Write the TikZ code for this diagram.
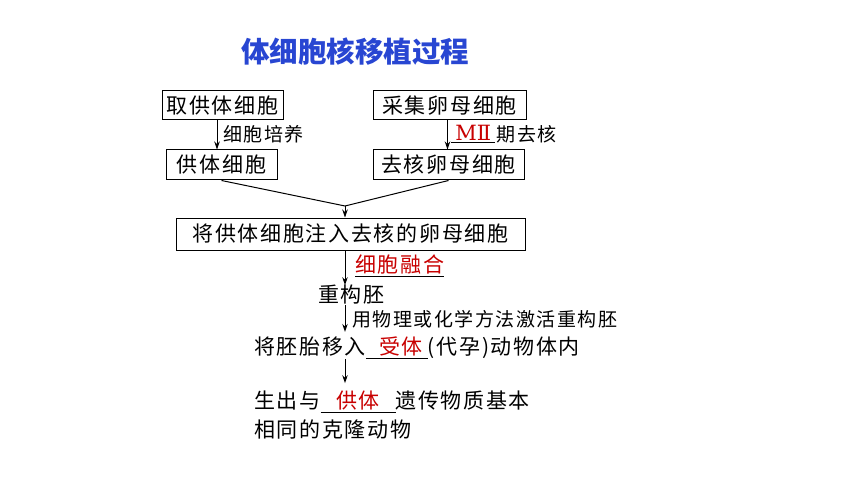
\documentclass[tikz,border=0pt]{standalone}
\usepackage{fontspec}
\setmainfont{Noto Sans CJK SC}
\newfontfamily\bodyfont[LetterSpace=8]{Noto Sans CJK SC}
\newfontfamily\romanfont{DejaVu Serif}
\usetikzlibrary{arrows.meta,positioning}
\definecolor{titleblue}{RGB}{40,70,210}
\definecolor{fillred}{RGB}{200,0,0}
\newcommand\blankfill[2]{\underline{\makebox[#1][c]{\color{fillred}#2}}}
\tikzset{
    stepbox/.style={draw, line width=1pt, inner sep=0pt, minimum height=29pt,
        font=\bodyfont\fontsize{21}{25}\selectfont},
    steptext/.style={anchor=west, inner sep=0pt, font=\bodyfont\fontsize{21}{25}\selectfont},
    arrowtext/.style={anchor=west, inner sep=0pt, font=\bodyfont\fontsize{19}{23}\selectfont},
    flow/.style={-{Stealth[length=8pt,width=5.5pt]}, line width=1pt}
}
\begin{document}
\begin{tikzpicture}[x=1pt,y=-1pt]
    \useasboundingbox (0,0) rectangle (860,484);
    %% 标题
    \node[font=\fontsize{28.5}{33}\selectfont\bfseries, text=titleblue] (title) at (355,52) {体细胞核移植过程};
    %% 上面两路
    \node[stepbox, minimum width=121pt] (take) at (222.5,105.5) {取供体细胞};
    \node[stepbox, minimum width=153pt] (collect) at (449.5,105.5) {采集卵母细胞};
    \node[stepbox, minimum width=111pt, minimum height=30pt] (donor) at (221.5,165) {供体细胞};
    \node[stepbox, minimum width=151pt, minimum height=30pt] (enuc) at (448.5,165) {去核卵母细胞};
    \node[stepbox, minimum width=349pt, minimum height=32pt] (inject) at (350.5,234) {将供体细胞注入去核的卵母细胞};
    
    \coordinate (lx) at (217,0);
    \coordinate (rx) at (447.5,0);
    \coordinate (mx) at (345,0);
    \coordinate (merge) at (345,206);
    
    \draw[flow] (take.south -| lx) -- (donor.north -| lx);
    \node[arrowtext] (culture) at (223,134) {细胞培养};
    \draw[flow] (collect.south -| rx) -- (enuc.north -| rx);
    \node[arrowtext] (mii) at (451,134) {\blankfill{44pt}{\romanfont\fontsize{21}{25}\selectfont MⅡ}};
    \node[arrowtext, right=1pt of mii] (enucl) {期去核};
    
    \draw[line width=1pt] (donor.south) -- (merge) -- (enuc.south);
    \draw[flow] (merge) -- (inject.north -| merge);
    %% 下面一路
    \node[steptext] (embryo) at (318,295) {重构胚};
    \node[steptext] (fusion) at (355,266) {\underline{\color{fillred}细胞融合}};
    \draw[flow] (inject.south -| mx) -- (embryo.north -| mx);
    
    \node[steptext] (transfer) at (254,348) {将胚胎移入\blankfill{62pt}{\hspace{8pt}受体}(代孕)动物体内};
    \node[arrowtext] (activate) at (352,319) {用物理或化学方法激活重构胚};
    \draw[flow, shorten >=5pt] (embryo.south -| mx) -- (transfer.north -| mx);
    
    \node[steptext] (birth) at (254,402) {生出与\blankfill{75pt}{供体}遗传物质基本};
    \node[steptext] (clone) at (254,429) {相同的克隆动物};
    \draw[flow, shorten >=8pt] (transfer.south -| mx) -- (birth.north -| mx);
\end{tikzpicture}
\end{document}
